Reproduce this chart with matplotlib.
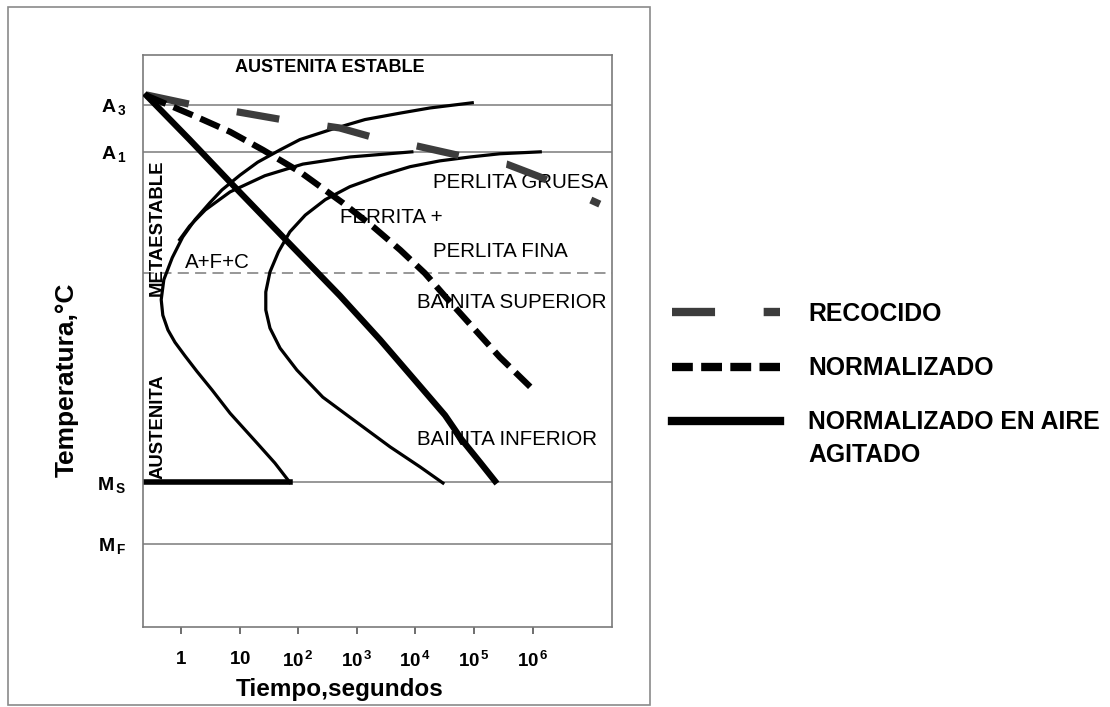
# Diagrama TTT con las curvas de enfriamiento de recocido y normalizado
import matplotlib
matplotlib.use("Agg")
import matplotlib.pyplot as plt
from matplotlib.patches import Rectangle

plt.rcParams['font.family'] = ['Liberation Sans', 'DejaVu Sans']
plt.rcParams['mathtext.fontset'] = 'custom'
plt.rcParams['mathtext.rm'] = 'Liberation Sans:bold'
plt.rcParams['mathtext.bf'] = 'Liberation Sans:bold'
plt.rcParams['mathtext.it'] = 'Liberation Sans:bold'
plt.rcParams['lines.scale_dashes'] = False

# temperaturas criticas (°C)
A3 = 800
A1 = 727
T_BAINITA = 540
MS = 215
MF = 120

# curva de inicio de transformacion (tiempo en s, temperatura en °C)
t_inicio = [93300, 17800, 5500, 1380, 347, 107, 49, 20.4, 10.2, 5.0, 3.1, 1.74, 1.07,
            0.71, 0.51, 0.46, 0.49, 0.60, 0.79, 1.17, 1.87, 3.4, 6.9, 19.8, 40, 72]
T_inicio = [803, 795, 787, 777, 761, 746, 730, 711, 691, 668, 648, 622, 595,
            563, 529, 498, 474, 451, 432, 411, 387, 358, 322, 276, 245, 215]

# rama de la ferrita proeutectoide
t_ferrita = [0.95, 1.4, 2.6, 6.9, 27, 120, 760, 8700]
T_ferrita = [591, 612, 637, 665, 690, 708, 719, 727]

# curva de fin de transformacion
t_fin = [1.35e6, 2.75e5, 8.5e4, 2.6e4, 8100, 2500, 760, 290, 132, 72, 46, 33, 28,
         28, 33, 49, 95, 263, 760, 3700, 1.2e4, 2.95e4]
T_fin = [727, 724, 719, 713, 704, 690, 673, 653, 629, 603, 572, 541, 510,
         482, 454, 423, 389, 347, 316, 270, 239, 214]

# curvas de enfriamiento
t_recocido = [0.26, 1.55, 9.1, 52, 510, 1800, 1.07e4, 5.8e4, 3.6e5, 1.35e6, 1.4e7]
T_recocido = [815, 800, 789, 777, 764, 750, 736, 721, 708, 688, 646]

t_normal = [0.26, 1.86, 6.9, 25, 107, 575, 1900, 5500, 1.45e4, 3.6e4, 1.05e5, 2.75e5, 9.1e5]
T_normal = [814, 781, 758, 730, 696, 648, 611, 575, 539, 498, 451, 409, 363]

t_aire = [0.26, 1.4, 6.9, 64, 517, 2490, 1.2e4, 3.2e4, 6.2e4, 1.27e5, 2.28e5]
T_aire = [814, 746, 680, 589, 504, 436, 364, 319, 281, 246, 217]

ticks_t = [1, 10, 1e2, 1e3, 1e4, 1e5, 1e6]
etiquetas_t = [r'$\mathrm{1}$', r'$\mathrm{10}$', r'$\mathrm{10^{\,2}}$', r'$\mathrm{10^{\,3}}$',
               r'$\mathrm{10^{\,4}}$', r'$\mathrm{10^{\,5}}$', r'$\mathrm{10^{\,6}}$']
ticks_T = [A3, A1, MS, MF]
etiquetas_T = [r'$\mathrm{A}_{\,3}$', r'$\mathrm{A}_{\,1}$', r'$\mathrm{M}_{\,S}$', r'$\mathrm{M}_{\,F}$']

gris = '#7a7a7a'

fig = plt.figure(figsize=(11.1, 7.07), dpi=100)
fig.add_artist(Rectangle((8 / 1110, 2 / 707), 642 / 1110, 698 / 707, transform=fig.transFigure,
                         fill=False, edgecolor='#8a8a8a', lw=1.2))

ax = fig.add_axes([143 / 1110, 80 / 707, 469 / 1110, 572 / 707])
ax.set_xscale('log')
ax.set_xlim(0.225, 2.26e7)
ax.set_ylim(-9, 877)

for T in [A3, A1, MS, MF]:
    ax.axhline(T, color=gris, lw=1.1, zorder=1)
ax.axhline(T_BAINITA, color=gris, lw=1.1, ls=(0, (8, 4.5)), zorder=1)

ax.plot(t_inicio, T_inicio, color='k', lw=2.3, solid_joinstyle='round')
ax.plot(t_ferrita, T_ferrita, color='k', lw=2.3, solid_joinstyle='round')
ax.plot(t_fin, T_fin, color='k', lw=2.3, solid_joinstyle='round')
ax.plot([ax.get_xlim()[0], t_inicio[-1]], [MS, MS], color='k', lw=4)

l_rec, = ax.plot(t_recocido, T_recocido, color='#3c3c3c', lw=5.2, ls=(0, (31, 35)),
                 dash_capstyle='butt', label='RECOCIDO', zorder=4)
l_norm, = ax.plot(t_normal, T_normal, color='k', lw=4.5, ls=(0, (15, 6)),
                  dash_capstyle='butt', label='NORMALIZADO', zorder=4)
l_aire, = ax.plot(t_aire, T_aire, color='k', lw=4.5, label='NORMALIZADO EN AIRE', zorder=4)

# textos de las zonas
ax.text(350, 857, 'AUSTENITA ESTABLE', fontsize=13, fontweight='bold', ha='center', va='center')
ax.text(2.0e4, 680, 'PERLITA GRUESA', fontsize=14.8, va='center')
ax.text(520, 625, 'FERRITA +', fontsize=14.8, va='center')
ax.text(2.0e4, 572, 'PERLITA FINA', fontsize=14.8, va='center')
ax.text(1.17, 556, 'A+F+C', fontsize=14.8, va='center')
ax.text(1.07e4, 494, 'BAINITA SUPERIOR', fontsize=14.8, va='center')
ax.text(1.07e4, 281, 'BAINITA INFERIOR', fontsize=14.8, va='center')
ax.text(0.4, 609, 'METAESTABLE', fontsize=13.3, fontweight='bold', rotation=90, ha='center', va='center')
ax.text(0.4, 301, 'AUSTENITA', fontsize=13.3, fontweight='bold', rotation=90, ha='center', va='center')

ax.set_xticks(ticks_t)
ax.set_xticklabels(etiquetas_t)
ax.xaxis.set_minor_locator(matplotlib.ticker.NullLocator())
ax.set_yticks(ticks_T)
ax.set_yticklabels(etiquetas_T)
ax.tick_params(axis='x', direction='out', length=5, width=1.2, color='#555555', labelsize=13.5, pad=12)
ax.tick_params(axis='y', length=0, labelsize=14, pad=12)
for s in ax.spines.values():
    s.set_color(gris)
    s.set_linewidth(1.2)

ax.set_xlabel('Tiempo,segundos', fontsize=17.5, fontweight='bold')
ax.xaxis.set_label_coords(0.42, -0.09)
ax.set_ylabel('Temperatura,°C', fontsize=19, fontweight='bold')
ax.yaxis.set_label_coords(-0.138, 0.432)

leg = fig.legend(handles=[l_rec, l_norm, l_aire], loc='upper left',
                 bbox_to_anchor=(672 / 1110, (707 - 302) / 707), frameon=False,
                 prop={'weight': 'bold', 'size': 17.8}, handlelength=4.37, handletextpad=1.13,
                 labelspacing=1.22, borderpad=0, borderaxespad=0)
for h in leg.legend_handles:
    h.set_linewidth(6)
fig.text(808 / 1110, (707 - 455) / 707, 'AGITADO', fontsize=17.8, fontweight='bold', va='center')

fig.savefig('out.png', dpi=100)
